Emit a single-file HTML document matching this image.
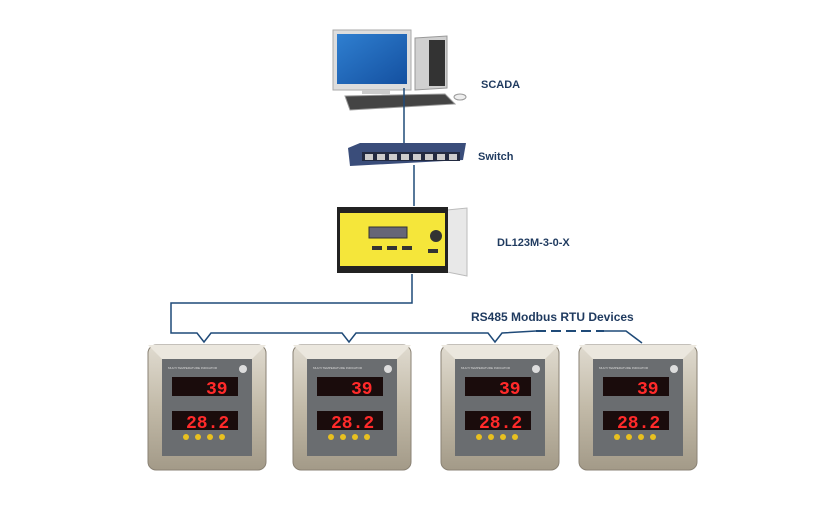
<!DOCTYPE html>
<html><head><meta charset="utf-8"><style>
html,body{margin:0;padding:0;background:#fff;width:829px;height:505px;overflow:hidden}
text{font-family:"Liberation Sans",sans-serif;font-weight:bold;fill:#1f3a5f}
</style></head><body>
<svg width="829" height="505" viewBox="0 0 829 505" xmlns="http://www.w3.org/2000/svg">
<defs>
<linearGradient id="scr" x1="0" y1="0" x2="1" y2="1"><stop offset="0" stop-color="#2f7fd0"/><stop offset="1" stop-color="#1450a0"/></linearGradient>
<linearGradient id="bez" x1="0" y1="0" x2="0" y2="1"><stop offset="0" stop-color="#e0dbd0"/><stop offset="0.5" stop-color="#c2baa8"/><stop offset="1" stop-color="#a39a88"/></linearGradient>
<g id="meter">
<rect x="0" y="0" width="118" height="125" rx="8" fill="url(#bez)" stroke="#8a8274"/>
<polygon points="0,0 118,0 104,14 14,14" fill="#ebe7de"/>
<rect x="14" y="14" width="90" height="97" fill="#6a6d70"/>
<text x="20" y="24" style="font-size:3px;fill:#ddd;font-weight:normal">MULTI TEMPERATURE INDICATOR</text>
<circle cx="95" cy="24" r="4" fill="#ddd"/>
<rect x="24" y="32" width="66" height="19" fill="#1a0c0c"/>
<text x="58" y="49" style="font-size:18px;fill:#ff2a2a;font-family:'Liberation Mono',monospace">39</text>
<rect x="24" y="66" width="66" height="19" fill="#1a0c0c"/>
<text x="38" y="83" style="font-size:18px;fill:#ff2a2a;font-family:'Liberation Mono',monospace">28.2</text>
<circle cx="38" cy="92" r="3" fill="#e8c020"/><circle cx="50" cy="92" r="3" fill="#e8c020"/><circle cx="62" cy="92" r="3" fill="#e8c020"/><circle cx="74" cy="92" r="3" fill="#e8c020"/>
</g>
</defs>
<!-- computer -->
<rect x="333" y="30" width="78" height="60" fill="#ddd" stroke="#aaa"/>
<rect x="337" y="34" width="70" height="50" fill="url(#scr)"/>
<rect x="362" y="90" width="28" height="4" fill="#ccc"/>
<polygon points="415,38 447,36 447,88 415,90" fill="#d0d0d0" stroke="#999"/>
<rect x="429" y="40" width="16" height="46" fill="#333"/>
<polygon points="345,96 445,94 455,104 350,110" fill="#444" stroke="#999"/>
<ellipse cx="460" cy="97" rx="6" ry="3" fill="#eee" stroke="#999"/>
<!-- lines -->
<g stroke="#1f4a78" stroke-width="1.5" fill="none">
<line x1="404" y1="88" x2="404" y2="144"/>
<line x1="414" y1="165" x2="414" y2="206"/>
<polyline points="412,274 412,303 171,303 171,333 197,333 204,342 211,333 342,333 349,342 356,333 488,333 495,342 502,333 536,331"/>
<line x1="536" y1="331" x2="604" y2="331" stroke-dasharray="10,5" stroke-width="2"/>
<polyline points="604,331 626,331 642,343"/>
</g>
<!-- switch -->
<polygon points="348,148 360,143 466,143 463,160 350,166" fill="#3a4d7a"/>
<rect x="362" y="152" width="98" height="9" fill="#222a40"/>
<g fill="#ccc"><rect x="365" y="154" width="8" height="6"/><rect x="377" y="154" width="8" height="6"/><rect x="389" y="154" width="8" height="6"/><rect x="401" y="154" width="8" height="6"/><rect x="413" y="154" width="8" height="6"/><rect x="425" y="154" width="8" height="6"/><rect x="437" y="154" width="8" height="6"/><rect x="449" y="154" width="8" height="6"/></g>
<!-- DL device -->
<polygon points="447,210 467,208 467,276 447,272" fill="#e8e8e8" stroke="#bbb"/>
<rect x="337" y="207" width="111" height="66" fill="#222"/>
<rect x="340" y="213" width="105" height="53" fill="#f5e63a"/>
<rect x="369" y="227" width="38" height="11" fill="#667" stroke="#333"/>
<g fill="#333"><rect x="372" y="246" width="10" height="4"/><rect x="387" y="246" width="10" height="4"/><rect x="402" y="246" width="10" height="4"/><rect x="428" y="249" width="10" height="4"/><circle cx="436" cy="236" r="6"/></g>
<!-- meters -->
<use href="#meter" x="148" y="345"/>
<use href="#meter" x="293" y="345"/>
<use href="#meter" x="441" y="345"/>
<use href="#meter" x="579" y="345"/>
<!-- labels -->
<text x="481" y="88" style="font-size:11px">SCADA</text>
<text x="478" y="160" style="font-size:11px">Switch</text>
<text x="497" y="246" style="font-size:11px">DL123M-3-0-X</text>
<text x="471" y="321" style="font-size:12px">RS485  Modbus RTU Devices</text>
</svg>
</body></html>
